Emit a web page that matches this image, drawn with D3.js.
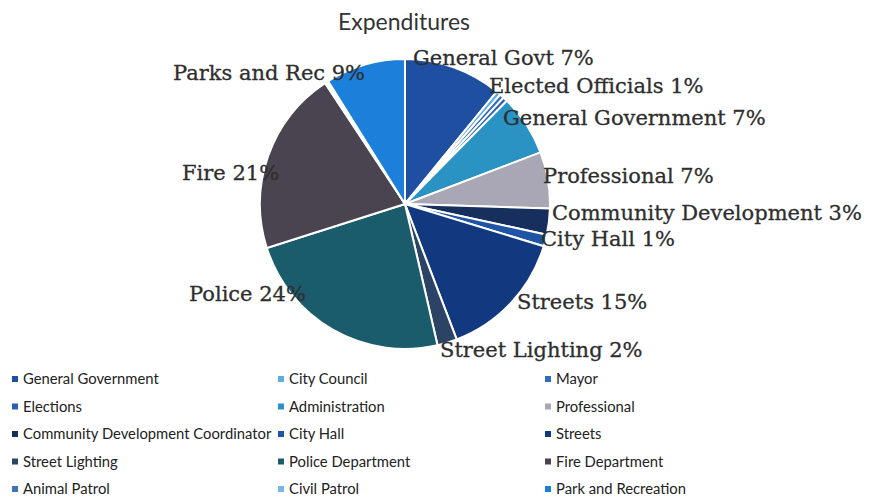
<!DOCTYPE html>
<html>
<head>
<meta charset="utf-8">
<script src="https://cdn.jsdelivr.net/npm/d3@7"></script>
<style>
  html, body { margin: 0; padding: 0; background: #fff; }
  svg { display: block; }
</style>
</head>
<body>
<svg id="chart" width="869" height="498"></svg>
<script>
// Expenditure categories, in drawing order (clockwise from 12 o'clock)
const categories = [
  "General Government", "City Council", "Mayor", "Elections", "Administration",
  "Professional", "Community Development Coordinator", "City Hall", "Streets",
  "Street Lighting", "Police Department", "Fire Department", "Animal Patrol",
  "Civil Patrol", "Park and Recreation"
];
// Share of total spending (percent)
const values = [10.9, 0.5, 0.5, 0.5, 6.8, 6.3, 2.9, 1.3, 14.5, 2.2, 23.7, 20.6, 0.2, 0.2, 8.9];
const colors = [
  "#1e4fa0", "#5aaee0", "#2f6cc4", "#2a5fb5", "#2a93c3",
  "#a9a6b5", "#172f5c", "#1f55a5", "#12397f", "#2b4466",
  "#1b5c6c", "#4a4450", "#3f73b5", "#79b8e6", "#1c7fd9"
];

// Slice callouts: which slice each one belongs to and its text
const labelSlice = [0, 3, 4, 5, 6, 7, 8, 9, 10, 11, 14];
const labelText = [
  "General Govt 7%", "Elected Officials 1%", "General Government 7%", "Professional 7%",
  "Community Development 3%", "City Hall 1%", "Streets 15%", "Street Lighting 2%",
  "Police 24%", "Fire 21%", "Parks and Rec 9%"
];
// Callout placement relative to the pie centre (left edge, baseline)
const labelOffset = [
  [8, -139], [84, -111], [98, -79], [138, -21], [147, 16], [136, 42],
  [112, 105], [35, 153], [-216, 97], [-223, -24], [-232, -124]
];

const title = "Expenditures";

const svg = d3.select("#chart");
const cx = 405, cy = 204, radius = 145;

svg.append("text")
  .attr("x", 404).attr("y", 30)
  .attr("text-anchor", "middle")
  .attr("font-family", "Lato, 'Open Sans', sans-serif")
  .attr("font-size", 23)
  .attr("fill", "#333")
  .text(title);

const pie = d3.pie().sort(null).value(d => d)(values);
const arc = d3.arc().innerRadius(0).outerRadius(radius);

const g = svg.append("g").attr("transform", `translate(${cx},${cy})`);
g.selectAll("path.slice")
  .data(pie)
  .join("path")
  .attr("class", "slice")
  .attr("d", arc)
  .attr("fill", (d, i) => colors[i])
  .attr("stroke", "#fff")
  .attr("stroke-width", 2)
  .attr("stroke-linejoin", "round");

g.selectAll("text.callout")
  .data(labelText)
  .join("text")
  .attr("class", "callout")
  .attr("x", (d, i) => labelOffset[i][0])
  .attr("y", (d, i) => labelOffset[i][1])
  .attr("font-family", "'DejaVu Serif', Georgia, serif")
  .attr("font-size", 21)
  .attr("fill", "#2e2e2e")
  .attr("stroke", "#2e2e2e")
  .attr("stroke-width", 0.3)
  .text(d => d);

// Legend: three columns, five rows
const colX = [12, 278, 545];
const rowY = d3.range(5).map(r => 379 + r * 27.5);
const legend = svg.append("g");
const items = legend.selectAll("g.item")
  .data(categories)
  .join("g")
  .attr("class", "item")
  .attr("transform", (d, i) => `translate(${colX[i % 3]},${rowY[Math.floor(i / 3)]})`);
items.append("rect")
  .attr("x", 0).attr("y", -3)
  .attr("width", 6).attr("height", 6)
  .attr("fill", (d, i) => colors[i]);
items.append("text")
  .attr("x", 11).attr("y", 0)
  .attr("dy", "0.35em")
  .attr("font-family", "Lato, 'Open Sans', sans-serif")
  .attr("font-size", 14.8)
  .attr("fill", "#222")
  .text(d => d);
</script>
</body>
</html>
